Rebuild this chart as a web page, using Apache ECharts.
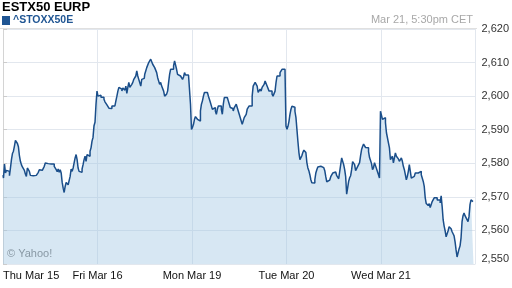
<!DOCTYPE html>
<html><head><meta charset="utf-8">
<script src="https://cdn.jsdelivr.net/npm/echarts@6/dist/echarts.min.js"></script>
<style>html,body{margin:0;padding:0;background:#fff}#c{width:512px;height:288px}</style>
</head><body><div id="c"></div>
<script>
const dayLabels = ["Thu Mar 15", "Fri Mar 16", "Mon Mar 19", "Tue Mar 20", "Wed Mar 21"];
const yTicks = [2550, 2560, 2570, 2580, 2590, 2600, 2610, 2620];
const titleText = "ESTX50 EURP";
const tickerText = "^STOXX50E";
const stampText = "Mar 21, 5:30pm CET";
const creditText = "\u00A9 Yahoo!";

const thu15 = [
2576.5,2575.6,2579.8,2577.1,2577.9,2577.6,2577.6,2576.3,2578.6,2581.1,
2582.9,2583.6,2585.1,2586.8,2586.9,2585.9,2584.9,2582.3,2580.6,2579.6,
2578.9,2578.5,2577.9,2576.8,2576.1,2578.6,2578.9,2577.6,2576.4,2575.9,
2576.3,2576.8,2576.1,2576.4,2575.9,2576.8,2577.3,2578.1,2578.4,2577.9,
2578.1,2577.7,2579.1,2580.1,2579.6,2579.9,2580.4,2579.7,2579.8,2579.3,
2579.7,2579.8,2579.1,2578.8,2578.1,2577.5,2578.3,2577.3,2578.1,2577.1,
2574.3,2572.6,2571.3,2573.1,2574.3,2574.1,2573.6,2573.1,2576.1,2578.3,
2577.6,2578.6,2580.1,2581.6,2582.6,2581.1,2578.6,2577.6,2578.1,2577.3,
2578.3,2579.6,2581.1,2582.1,2580.6,2582.6,2583.1,2582.1,2583.6,2584.6,
2586.6,2587.7,2591.2,2592.2,2597.6];
const fri16 = [
2601.5,2600.0,2599.6,2600.3,2599.7,2600.0,2599.7,2599.1,2598.3,2597.8,
2597.4,2597.1,2596.4,2596.8,2596.3,2597.1,2596.6,2597.1,2597.6,2598.6,
2600.0,2601.5,2602.6,2603.0,2602.1,2601.5,2602.4,2602.7,2601.8,2603.0,
2600.8,2602.6,2604.1,2602.6,2603.0,2603.5,2604.1,2605.0,2605.0,2606.0,
2607.5,2606.0,2605.0,2604.5,2603.0,2605.0,2605.5,2605.3,2606.5,2607.5,
2608.5,2609.0,2610.0,2610.5,2611.0,2610.5,2609.5,2609.0,2608.5,2608.0,
2607.0,2605.5,2605.0,2603.5,2604.1,2603.0,2602.6,2601.5,2600.0,2599.6,
2600.6,2601.5,2604.1,2606.5,2608.0,2608.5,2608.0,2609.0,2610.5,2610.0,
2608.0,2606.5,2606.3,2606.0,2606.3,2606.0,2605.0,2605.7,2607.0,2606.3,
2606.0,2606.3,2606.0,2606.5,2597.6];
const mon19 = [
2590.1,2590.7,2591.6,2593.1,2593.9,2593.6,2593.1,2593.6,2592.6,2595.6,
2597.6,2598.6,2600.0,2601.1,2601.5,2601.1,2600.6,2600.0,2599.1,2598.1,
2597.1,2596.1,2595.6,2596.6,2595.6,2594.6,2596.1,2597.1,2596.6,2597.1,
2596.1,2594.6,2597.6,2599.6,2600.0,2599.6,2599.1,2598.6,2597.6,2596.6,
2596.1,2596.3,2595.6,2596.6,2597.1,2597.6,2598.1,2595.6,2594.6,2595.1,
2592.6,2591.6,2592.6,2593.6,2593.1,2594.6,2596.1,2596.6,2597.1,2597.6,
2597.1,2600.0,2603.0,2603.5,2604.1,2604.5,2603.0,2601.1,2601.5,2602.1,
2601.5,2602.6,2602.1,2603.5,2604.5,2604.1,2603.0,2602.6,2601.5,2601.1,
2601.5,2600.6,2600.0,2599.6,2601.5,2604.1,2606.0,2605.5,2606.0,2607.0,
2607.5,2608.0,2607.5,2608.0,2607.5];
const tue20 = [
2591.1,2590.1,2591.0,2592.5,2594.6,2596.1,2597.0,2597.3,2596.7,2595.5,
2593.7,2590.1,2586.5,2583.2,2581.1,2581.6,2582.3,2583.3,2583.9,2584.4,
2583.2,2580.2,2578.6,2577.8,2576.6,2575.1,2574.2,2574.5,2574.1,2575.1,
2577.1,2578.1,2578.9,2578.7,2579.1,2579.5,2579.0,2578.7,2578.4,2577.8,
2576.0,2574.5,2574.4,2575.0,2575.4,2576.0,2576.5,2577.1,2577.5,2577.4,
2576.9,2576.3,2575.9,2575.4,2575.7,2579.6,2581.6,2581.4,2579.6,2578.1,
2576.0,2570.8,2572.7,2574.6,2575.7,2576.3,2578.1,2580.5,2581.0,2579.6,
2577.8,2577.5,2579.0,2579.5,2580.2,2582.3,2584.1,2585.0,2585.7,2585.6,
2584.7,2584.3,2584.6,2583.5,2581.7,2580.8,2579.9,2578.1,2578.7,2580.2,
2579.3,2579.6,2577.5,2576.6,2575.6];
const wed21 = [
2595.5,2595.1,2593.1,2592.6,2593.6,2592.1,2589.1,2589.5,2586.1,2584.6,
2581.1,2580.6,2582.1,2580.1,2581.6,2583.1,2582.1,2581.6,2581.3,2580.6,
2581.1,2581.6,2580.6,2579.1,2578.1,2576.6,2575.1,2576.1,2577.6,2579.6,
2577.6,2575.6,2575.1,2576.1,2576.6,2577.1,2577.6,2577.1,2577.4,2576.6,
2577.6,2576.6,2576.1,2574.6,2573.1,2569.7,2568.0,2568.2,2567.4,2568.0,
2566.8,2567.7,2568.6,2569.1,2569.7,2569.8,2569.7,2569.1,2568.6,2569.1,
2568.2,2570.3,2567.1,2563.2,2561.3,2559.9,2558.1,2557.8,2559.9,2561.1,
2561.3,2560.5,2559.6,2559.0,2558.4,2556.6,2554.2,2552.1,2551.8,2554.5,
2555.4,2557.8,2562.6,2564.4,2565.2,2564.4,2563.8,2563.2,2562.6,2564.1,
2567.7,2569.1,2568.6,2569.4];

const pointsPerDay = 95;
const days = [thu15, fri16, mon19, tue20, wed21];
const seriesData = [];
days.forEach((arr, d) => arr.forEach((v, j) => seriesData.push([d + j / pointsPerDay, v])));

const chart = echarts.init(document.getElementById('c'), null, {renderer: 'canvas'});
chart.setOption({
  animation: false,
  grid: {left: 3, right: 35, top: 29, bottom: 24, containLabel: false},
  xAxis: {
    type: 'value', min: 0, max: dayLabels.length, interval: 1,
    axisLine: {show: false}, axisTick: {show: false},
    splitLine: {show: true, lineStyle: {color: '#e2e7ee', width: 1}},
    axisLabel: {
      formatter: v => dayLabels[v] || '',
      color: '#111', fontSize: 11, fontFamily: 'Liberation Sans, Arial, sans-serif',
      margin: 6, alignMinLabel: 'left', showMaxLabel: false
    }
  },
  yAxis: {
    type: 'value', position: 'right',
    min: yTicks[0], max: yTicks[yTicks.length - 1], interval: yTicks[1] - yTicks[0],
    axisLine: {show: true, lineStyle: {color: '#d4d4d4'}},
    axisTick: {show: true, length: 4, lineStyle: {color: '#cccccc'}},
    splitLine: {show: true, lineStyle: {color: '#e2e7ee', width: 1}},
    axisLabel: {
      formatter: v => v === yTicks[0] ? '{lo|' + v.toLocaleString('en-US') + '}' : v.toLocaleString('en-US'),
      color: '#333', fontSize: 11, fontFamily: 'Liberation Sans Narrow, Arial Narrow, sans-serif',
      margin: 6,
      rich: {lo: {color: '#333', fontSize: 11, fontFamily: 'Liberation Sans Narrow, Arial Narrow, sans-serif', padding: [0, 0, 10, 0]}}
    }
  },
  series: [{
    type: 'line', data: seriesData, symbol: 'none', showSymbol: false, silent: true,
    step: 'middle',
    lineStyle: {color: '#1a4e8a', width: 1.5},
    areaStyle: {color: '#a0c6e2', opacity: 0.42, origin: 'start'}
  }],
  graphic: [
    {type: 'line', shape: {x1: 0, y1: 28.5, x2: 477, y2: 28.5}, style: {stroke: '#e0e0e0', lineWidth: 1}, silent: true},
    {type: 'text', left: 2, top: 1, style: {text: titleText, font: 'bold 13px "Liberation Sans", Arial, sans-serif', fill: '#000'}},
    {type: 'rect', shape: {x: 2, y: 16, width: 8, height: 9}, style: {fill: '#1f5593'}},
    {type: 'text', left: 13, top: 15, style: {text: tickerText, font: 'bold 10.5px "Liberation Sans", Arial, sans-serif', fill: '#1f5593'}},
    {type: 'text', right: 39, top: 14, style: {text: stampText, font: '11px "Liberation Sans Narrow", "Arial Narrow", sans-serif', fill: '#a8a8a8'}},
    {type: 'text', left: 7, top: 248, style: {text: creditText, font: '11px "Liberation Sans", Arial, sans-serif', fill: '#777'}}
  ]
});
</script>
</body></html>
